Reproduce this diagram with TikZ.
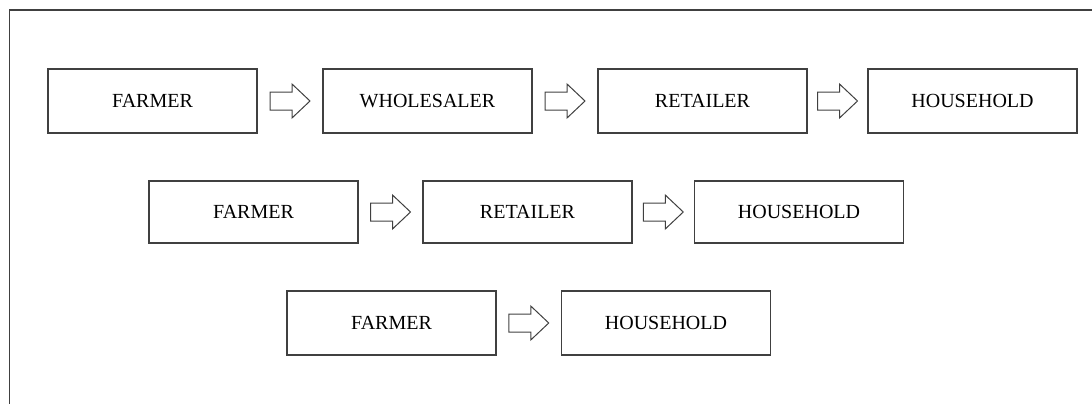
\documentclass[tikz,border=0pt]{standalone}
\usepackage{fontspec}
\setmainfont{Liberation Serif}
\usetikzlibrary{calc}
\definecolor{linegray}{HTML}{404040}
\tikzset{
  stagebox/.style={draw=linegray, line width=1.1pt, minimum width=209pt, minimum height=64pt, inner sep=0pt, font=\fontsize{20}{24}\selectfont},
  blockarrow/.style={draw=linegray, line width=1pt, line join=miter},
  frameline/.style={draw=linegray, line width=1.2pt}
}
\newcommand{\flowarrow}[2]{%
  \coordinate (m) at ($(#1.east)!0.5!(#2.west)$);
  \draw[blockarrow] ($(m)+(-20pt,-9pt)$) -- ($(m)+(2pt,-9pt)$) -- ($(m)+(2pt,-17pt)$) -- ($(m)+(20pt,0pt)$) -- ($(m)+(2pt,17pt)$) -- ($(m)+(2pt,9pt)$) -- ($(m)+(-20pt,9pt)$) -- cycle;
}
\begin{document}
\begin{tikzpicture}[x=1pt,y=-1pt]
\useasboundingbox (0,0) rectangle (1092,404);
\coordinate (ftl) at (9.5,10);
\coordinate (ftr) at (1092,10);
\coordinate (fbl) at (9.5,404);
\draw[frameline] (fbl) -- (ftl) -- (ftr);

\node[stagebox] (f1) at (152.5,101) {FARMER};
\node[stagebox] (w1) at (427.5,101) {WHOLESALER};
\node[stagebox] (r1) at (702.5,101) {RETAILER};
\node[stagebox] (h1) at (972.5,101) {HOUSEHOLD};

\node[stagebox, minimum height=62pt] (f2) at (253.5,212) {FARMER};
\node[stagebox, minimum height=62pt] (r2) at (527.5,212) {RETAILER};
\node[stagebox, minimum height=62pt] (h2) at (799,212) {HOUSEHOLD};

\node[stagebox] (f3) at (391.5,323) {FARMER};
\node[stagebox] (h3) at (666,323) {HOUSEHOLD};

\flowarrow{f1}{w1}
\flowarrow{w1}{r1}
\flowarrow{r1}{h1}
\flowarrow{f2}{r2}
\flowarrow{r2}{h2}
\flowarrow{f3}{h3}
\end{tikzpicture}
\end{document}
